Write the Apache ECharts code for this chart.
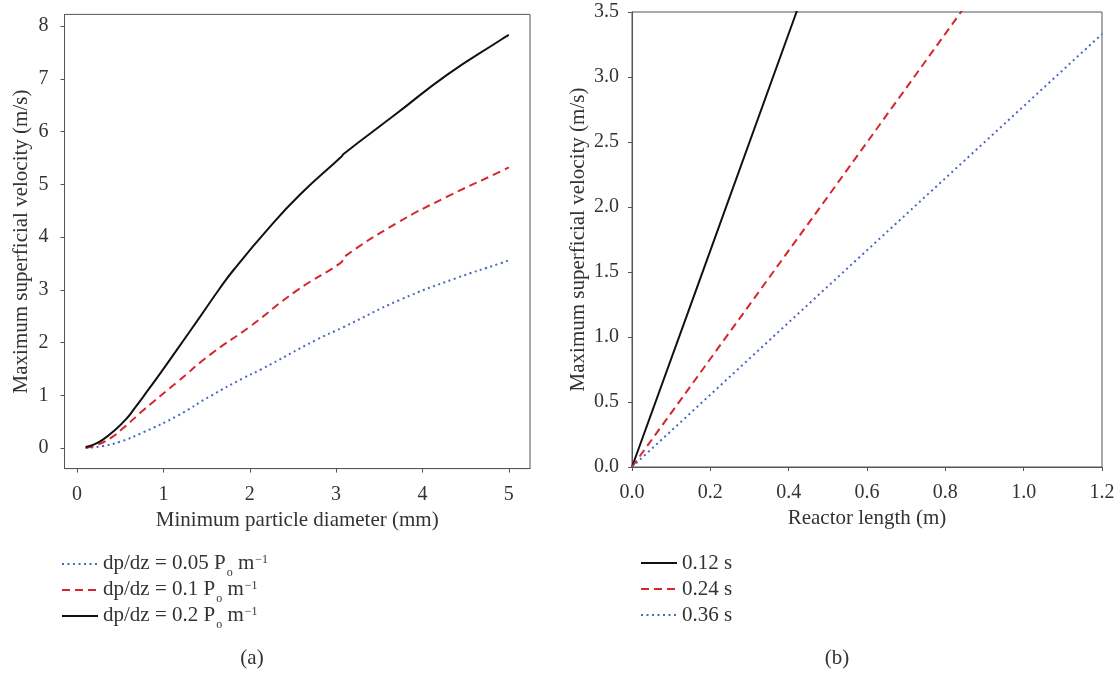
<!DOCTYPE html>
<html>
<head>
<meta charset="utf-8">
<script src="https://cdn.jsdelivr.net/npm/echarts@6/dist/echarts.min.js"></script>
<style>
    html, body { margin: 0; padding: 0; background: #fff; }
    #chart { width: 1120px; height: 673px; }
</style>
</head>
<body>
<div id="chart"></div>
<script>
// (a) max superficial velocity vs minimum particle diameter
var diamTicks = [0, 1, 2, 3, 4, 5];
var velTicksA = [0, 1, 2, 3, 4, 5, 6, 7, 8];
var gradLabels = ['0.05', '0.1', '0.2'];

var grad005 = [
    [0.1, 0.0], [0.31, 0.04], [0.5, 0.12], [0.77, 0.30], [1.16, 0.61], [1.55, 0.99],
    [1.93, 1.33], [2.13, 1.49], [2.77, 2.05], [3.07, 2.28], [3.74, 2.81],
    [4.39, 3.22], [4.9, 3.5], [5.0, 3.56]
];
var grad01 = [
    [0.1, 0.01], [0.2, 0.04], [0.38, 0.18], [0.55, 0.4], [0.77, 0.72], [1.16, 1.25], [1.55, 1.78],
    [2.0, 2.3], [2.54, 2.98], [3.06, 3.52], [3.09, 3.62], [3.7, 4.26],
    [4.28, 4.76], [4.9, 5.24], [5.0, 5.32]
];
var grad02 = [
    [0.1, 0.02], [0.2, 0.07], [0.3, 0.16], [0.44, 0.34], [0.58, 0.57], [0.67, 0.76],
    [0.77, 0.98], [0.97, 1.43], [1.16, 1.87], [1.43, 2.5], [1.65, 3.02], [1.81, 3.37],
    [2.2, 4.13], [2.58, 4.8], [3.06, 5.52], [3.09, 5.58], [3.7, 6.34], [4.28, 7.07],
    [4.9, 7.73], [5.0, 7.83]
];

// (b) max superficial velocity vs reactor length, per residence time
var timeLabels = ['0.12 s', '0.24 s', '0.36 s'];
var res012 = [[0, 0], [0.167, 1.39], [0.42, 3.5], [0.48, 4.0]];
var res024 = [[0, 0], [0.5, 2.08], [0.84, 3.5], [0.9, 3.75]];
var res036 = [[0, 0], [0.5, 1.39], [1.2, 3.33]];

var FONT = 'Liberation Serif';
var TXT = '#333';
var FRAME = '#555';
var BLACK = '#111';
var RED = '#d7262b';
var BLUE = '#4a68c0';

var gradNames = gradLabels.map(function (g) { return 'dp/dz = ' + g + ' Po m-1'; });

function axisBase() {
    return {
        axisLine: { show: true, onZero: false, lineStyle: { color: FRAME, width: 1 } },
        axisTick: { show: true, length: 4, lineStyle: { color: FRAME } },
        axisLabel: { color: TXT, fontFamily: FONT, fontSize: 20 },
        splitLine: { show: false },
        nameTextStyle: { color: TXT, fontFamily: FONT, fontSize: 21 }
    };
}

function mk(extra) {
    var a = axisBase();
    for (var k in extra) {
        if (typeof extra[k] === 'object' && a[k] && !Array.isArray(extra[k])) {
            for (var j in extra[k]) a[k][j] = extra[k][j];
        } else {
            a[k] = extra[k];
        }
    }
    return a;
}

var chart = echarts.init(document.getElementById('chart'));

var option = {
    animation: false,
    backgroundColor: '#fff',
    grid: [
        { left: 64.5, top: 14.4, width: 465.5, height: 454.2, show: true, borderColor: FRAME, borderWidth: 1 },
        { left: 632, top: 12, width: 470, height: 455, show: true, borderColor: FRAME, borderWidth: 1 }
    ],
    xAxis: [
        mk({
            type: 'value', gridIndex: 0, min: -0.145, max: 5.245,
            name: 'Minimum particle diameter (mm)', nameLocation: 'middle', nameGap: 40,
            axisTick: { customValues: diamTicks },
            axisLabel: { customValues: diamTicks, margin: 16 }
        }),
        mk({
            type: 'value', gridIndex: 1, min: 0, max: 1.2, interval: 0.2,
            name: 'Reactor length (m)', nameLocation: 'middle', nameGap: 41,
            axisLabel: { margin: 16, formatter: function (v) { return v.toFixed(1); } }
        })
    ],
    yAxis: [
        mk({
            type: 'value', gridIndex: 0, min: -0.39, max: 8.22,
            name: 'Maximum superficial velocity (m/s)', nameLocation: 'middle', nameGap: 33, nameRotate: 90,
            axisTick: { customValues: velTicksA },
            axisLabel: { customValues: velTicksA, margin: 16 }
        }),
        mk({
            type: 'value', gridIndex: 1, min: 0, max: 3.5, interval: 0.5,
            name: 'Maximum superficial velocity (m/s)', nameLocation: 'middle', nameGap: 43, nameRotate: 90,
            axisLabel: { margin: 13, formatter: function (v) { return v.toFixed(1); } }
        })
    ],
    legend: [
        {
            data: gradNames,
            orient: 'vertical', left: 56, top: 548,
            itemWidth: 36, itemHeight: 14, itemGap: 0,
            itemStyle: { opacity: 0 },
            formatter: function (name) {
                var g = gradLabels[gradNames.indexOf(name)];
                return '{t|dp/dz = ' + g + ' P}{sub|o}{t| m}{sup|\u22121}';
            },
            textStyle: {
                color: TXT, fontFamily: FONT, fontSize: 21, lineHeight: 22,
                rich: {
                    t: { fontFamily: FONT, fontSize: 21, color: TXT, lineHeight: 22, verticalAlign: 'top' },
                    sub: { fontFamily: FONT, fontSize: 12, color: TXT, lineHeight: 12, verticalAlign: 'top', padding: [14, 0, 0, 1] },
                    sup: { fontFamily: FONT, fontSize: 12, color: TXT, lineHeight: 12, verticalAlign: 'top', padding: [1, 0, 0, 1] }
                }
            }
        },
        {
            data: timeLabels,
            orient: 'vertical', left: 635, top: 547,
            itemWidth: 36, itemHeight: 14, itemGap: 4,
            itemStyle: { opacity: 0 },
            textStyle: { color: TXT, fontFamily: FONT, fontSize: 21, lineHeight: 22 }
        }
    ],
    graphic: [
        { type: 'text', x: 252, y: 658, style: { text: '(a)', fill: TXT, font: '21px "Liberation Serif"', align: 'center', verticalAlign: 'middle' } },
        { type: 'text', x: 837, y: 658, style: { text: '(b)', fill: TXT, font: '21px "Liberation Serif"', align: 'center', verticalAlign: 'middle' } }
    ],
    series: [
        {
            name: gradNames[0], type: 'line', xAxisIndex: 0, yAxisIndex: 0, data: grad005,
            symbol: 'none', smooth: 0.5,
            lineStyle: { color: BLUE, width: 2, type: [2, 3.5] }, itemStyle: { color: BLUE }
        },
        {
            name: gradNames[1], type: 'line', xAxisIndex: 0, yAxisIndex: 0, data: grad01,
            symbol: 'none', smooth: 0.5,
            lineStyle: { color: RED, width: 2, type: [8, 5] }, itemStyle: { color: RED }
        },
        {
            name: gradNames[2], type: 'line', xAxisIndex: 0, yAxisIndex: 0, data: grad02,
            symbol: 'none', smooth: 0.5,
            lineStyle: { color: BLACK, width: 2 }, itemStyle: { color: BLACK }
        },
        {
            name: timeLabels[0], type: 'line', xAxisIndex: 1, yAxisIndex: 1, data: res012,
            symbol: 'none', lineStyle: { color: BLACK, width: 2 }, itemStyle: { color: BLACK }
        },
        {
            name: timeLabels[1], type: 'line', xAxisIndex: 1, yAxisIndex: 1, data: res024,
            symbol: 'none', lineStyle: { color: RED, width: 2, type: [8, 5] }, itemStyle: { color: RED }
        },
        {
            name: timeLabels[2], type: 'line', xAxisIndex: 1, yAxisIndex: 1, data: res036,
            symbol: 'none', lineStyle: { color: BLUE, width: 2, type: [2, 3.5] }, itemStyle: { color: BLUE }
        }
    ]
};

chart.setOption(option);
</script>
</body>
</html>
